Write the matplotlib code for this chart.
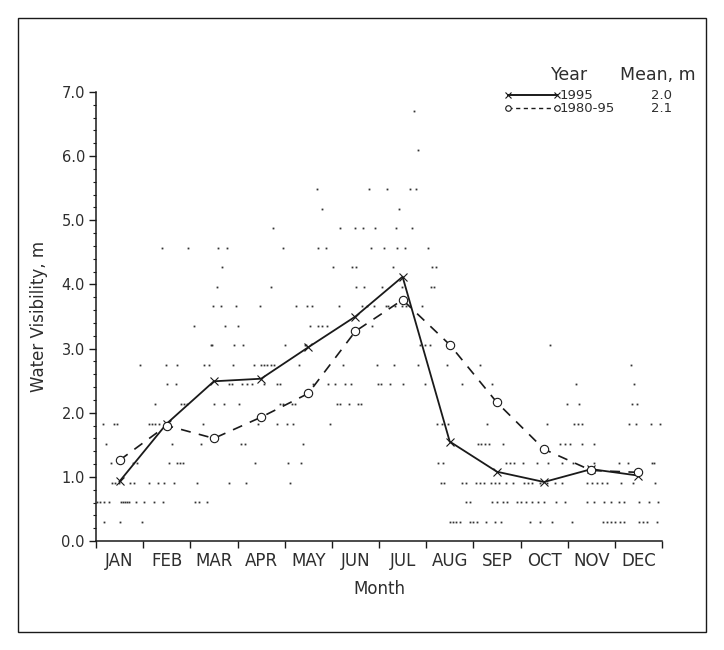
import numpy as np
import matplotlib
matplotlib.use("Agg")
import matplotlib.pyplot as plt
from matplotlib.lines import Line2D
from matplotlib.patches import Rectangle

months = ["JAN", "FEB", "MAR", "APR", "MAY", "JUN", "JUL", "AUG", "SEP", "OCT", "NOV", "DEC"]

# monthly means (m)
mean_1995 = [0.93, 1.83, 2.49, 2.53, 3.02, 3.50, 4.12, 1.55, 1.08, 0.92, 1.12, 1.02]
mean_8095 = [1.26, 1.80, 1.60, 1.93, 2.30, 3.27, 3.76, 3.06, 2.16, 1.43, 1.10, 1.07]

legend_years = ["1995", "1980-95"]
legend_means = ["2.0", "2.1"]

# single observations: visibility level (m) -> position along the year (months from 1 Jan)
obs_by_level = {
    6.71: [6.74],
    6.10: [6.82],
    5.49: [4.68, 5.79, 6.17, 6.65, 6.78],
    5.18: [4.79, 6.43],
    4.88: [3.75, 5.18, 5.49, 5.67, 5.92, 6.36, 6.69],
    4.57: [1.40, 1.94, 2.59, 2.78, 3.97, 4.71, 4.87, 5.83, 6.11, 6.38, 6.56, 7.04],
    4.27: [2.68, 5.03, 5.43, 5.52, 6.29, 7.13, 7.21],
    3.96: [2.56, 3.71, 5.51, 5.68, 6.07, 6.48, 7.10, 7.16],
    3.66: [2.49, 2.65, 2.97, 3.47, 4.25, 4.48, 4.58, 5.15, 5.64, 5.75, 5.89, 6.14,
           6.19, 6.33, 6.49, 6.58, 6.91],
    3.35: [2.07, 2.73, 3.00, 4.53, 4.70, 4.79, 4.89, 5.85],
    3.05: [2.43, 2.46, 2.92, 3.12, 4.00, 4.43, 4.46, 6.86, 6.97, 7.08, 9.62],
    2.74: [0.94, 1.48, 1.71, 2.29, 2.39, 2.90, 3.35, 3.49, 3.56, 3.63, 3.70, 3.77,
           4.30, 5.24, 5.95, 6.32, 6.83, 7.45, 8.14, 11.35],
    2.44: [1.51, 1.69, 2.82, 2.89, 3.09, 3.20, 3.31, 3.57, 3.84, 3.91, 4.60, 4.92,
           5.06, 5.28, 5.40, 5.98, 6.05, 6.23, 6.51, 6.97, 7.77, 8.40, 10.18, 11.40],
    2.13: [1.26, 1.80, 1.86, 1.92, 2.51, 2.71, 3.03, 3.90, 3.96, 4.15, 4.22, 5.10,
           5.17, 5.36, 5.56, 5.61, 9.99, 10.25, 11.37, 11.47],
    1.83: [0.15, 0.38, 0.45, 1.12, 1.19, 1.26, 1.33, 2.27, 3.43, 3.83, 4.05, 4.18,
           4.97, 7.22, 7.34, 7.46, 8.30, 9.57, 10.13, 10.22, 10.31, 11.30, 11.44,
           11.76, 11.96],
    1.52: [0.22, 1.61, 2.22, 3.07, 3.16, 4.38, 8.09, 8.17, 8.25, 8.33, 8.62, 9.83,
           9.95, 10.06, 10.31, 10.56],
    1.22: [0.32, 0.78, 0.87, 1.54, 1.72, 1.79, 1.85, 3.38, 4.07, 4.34, 7.25, 7.36,
           8.70, 8.78, 8.86, 9.06, 9.36, 9.58, 9.89, 10.11, 10.55, 11.09, 11.28,
           11.79, 11.84],
    0.91: [0.34, 0.41, 0.49, 0.72, 0.81, 1.12, 1.32, 1.44, 1.65, 2.15, 2.83, 3.18,
           4.12, 7.32, 7.37, 7.75, 7.85, 8.05, 8.14, 8.23, 8.37, 8.45, 8.54, 8.69,
           8.85, 9.07, 9.15, 9.25, 9.41, 9.57, 9.73, 9.89, 10.42, 10.52, 10.62,
           10.73, 10.84, 11.14, 11.38, 11.86],
    0.61: [0.03, 0.08, 0.17, 0.28, 0.52, 0.57, 0.61, 0.65, 0.70, 0.84, 1.01, 1.22,
           1.41, 2.09, 2.18, 2.35, 7.85, 7.92, 8.40, 8.51, 8.62, 8.72, 8.93, 9.02,
           9.11, 9.25, 9.37, 9.50, 9.75, 9.94, 10.42, 10.56, 10.77, 10.91, 11.09,
           11.19, 11.51, 11.72, 11.92],
    0.30: [0.18, 0.51, 0.97, 7.50, 7.57, 7.64, 7.71, 7.92, 7.99, 8.07, 8.27, 8.45,
           8.59, 9.21, 9.42, 9.66, 10.10, 10.75, 10.83, 10.91, 11.00, 11.10, 11.19,
           11.51, 11.60, 11.69, 11.90],
}

ink = "#1a1a1a"
txt = "#2e2e2e"
plt.rcParams["font.family"] = "DejaVu Sans"

fig = plt.figure(figsize=(7.24, 6.5), dpi=100)
ax = fig.add_axes([96 / 724, 1 - 541 / 650, 566 / 724, 449 / 650])

# frame round the whole figure
fig.patches.append(Rectangle((18 / 724, 1 - 632 / 650), 688 / 724, 614 / 650,
                             transform=fig.transFigure, fill=False,
                             edgecolor=ink, linewidth=1.0))

# observations
for level, pos in obs_by_level.items():
    ax.plot(pos, [level] * len(pos), linestyle="none", marker="s",
            markersize=1.3, color="#333333", markeredgewidth=0)

x_mid = np.arange(12) + 0.5
ax.plot(x_mid, mean_1995, color=ink, linewidth=1.3, marker="x",
        markersize=6, markeredgewidth=0.8)
ax.plot(x_mid, mean_8095, color=ink, linewidth=1.2, linestyle=(0, (6, 5)),
        marker="o", markersize=6, markerfacecolor="white", markeredgewidth=0.8)

ax.set_xlim(0, 12)
ax.set_ylim(0, 7)
for s in ["top", "right"]:
    ax.spines[s].set_visible(False)
for s in ["left", "bottom"]:
    ax.spines[s].set_color(ink)
    ax.spines[s].set_linewidth(1.1)

ax.set_yticks(np.arange(0, 7.01, 1.0))
ax.set_yticklabels([f"{v:.1f}" for v in np.arange(0, 7.01, 1.0)])
ax.set_yticks(np.arange(0, 7.01, 0.2), minor=True)
ax.tick_params(axis="y", which="major", direction="out", length=5, width=1,
               colors=ink, labelcolor=txt, labelsize=10.5, pad=3)
ax.tick_params(axis="y", which="minor", direction="out", length=2.5, width=0.8,
               colors=ink)

ax.set_xticks(np.arange(0, 12.01, 1))
ax.set_xticklabels([])
ax.set_xticks(x_mid, minor=True)
ax.set_xticklabels(months, minor=True)
ax.tick_params(axis="x", which="major", direction="out", length=5, width=1, colors=ink)
ax.tick_params(axis="x", which="minor", length=0, labelsize=12, pad=8, labelcolor=txt)

ax.set_xlabel("Month", fontsize=12, color=txt, labelpad=7)
ax.set_ylabel("Water Visibility, m", fontsize=12, color=txt, labelpad=10)

# legend drawn by hand like the original
ax.text(0.8375, 1.038, "Year", transform=ax.transAxes, ha="center", va="center",
        fontsize=12.5, color=txt)
ax.text(0.993, 1.038, "Mean, m", transform=ax.transAxes, ha="center", va="center",
        fontsize=12.5, color=txt, clip_on=False)
rows_y = [0.993, 0.964]
styles = [dict(linestyle="-", marker="x", markerfacecolor=ink, lw=1.4),
          dict(linestyle=(0, (3, 2.5)), marker="o", markerfacecolor="white", lw=1.0)]
for yy, st, yr, mn in zip(rows_y, styles, legend_years, legend_means):
    ln = Line2D([0.728, 0.8145], [yy, yy], transform=ax.transAxes, color=ink,
                linestyle=st["linestyle"], linewidth=st["lw"], marker=st["marker"],
                markersize=4, markerfacecolor=st["markerfacecolor"],
                markeredgewidth=0.8, clip_on=False)
    ax.add_line(ln)
    ax.text(0.8185, yy, yr, transform=ax.transAxes, ha="left", va="center",
            fontsize=9.5, color=txt)
    ax.text(1.018, yy, mn, transform=ax.transAxes, ha="right", va="center",
            fontsize=9.5, color=txt, clip_on=False)

fig.savefig("out.png", dpi=100)
